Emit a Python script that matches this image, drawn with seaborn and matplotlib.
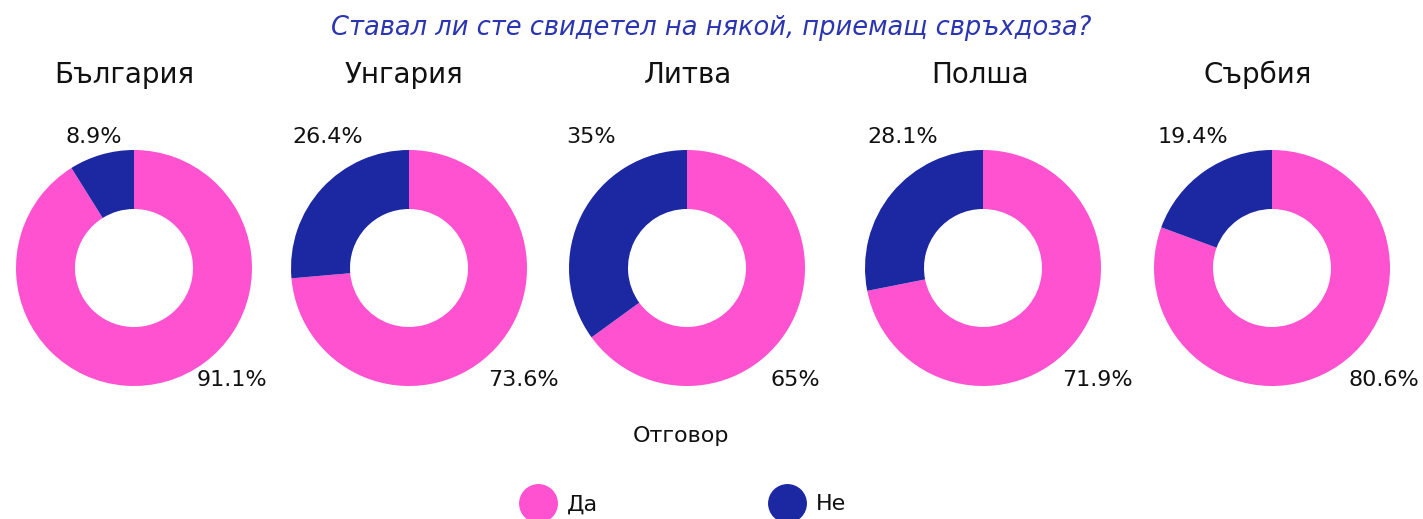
import matplotlib
matplotlib.use("Agg")
import matplotlib.pyplot as plt
from matplotlib.lines import Line2D
import seaborn as sns

# data
COUNTRIES = ["България", "Унгария", "Литва", "Полша", "Сърбия"]
YES = [91.1, 73.6, 65, 71.9, 80.6]
NO = [8.9, 26.4, 35, 28.1, 19.4]
ANSWERS = ["Да", "Не"]

TITLE = "Ставал ли сте свидетел на някой, приемащ свръхдоза?"
LEGEND_TITLE = "Отговор"

# layout (pixels of a 1423x519 canvas)
W, H = 1423, 519
CENTERS_X = [134, 409, 687, 983, 1272]
TITLES_X = [124, 404, 688, 980, 1258]
CENTER_Y = 268
RADIUS = 118
SMALL_LABEL_X = [-0.34, -0.69, -0.81, -0.68, -0.67]
BIG_LABEL_X = [0.83, 0.97, 0.92, 0.97, 0.95]

sns.set_theme(style="white")
plt.rcParams['font.family'] = ['DejaVu Sans']
colors = ["#FF52D0", "#1C28A2"]


def fmt(v):
    return f"{v:g}%"


fig = plt.figure(figsize=(W / 100, H / 100), dpi=100)

fig.text(0.5, 1 - 28 / H, TITLE, ha='center', va='center',
         fontsize=18.5, style='italic', color="#2B35B0")

for i, country in enumerate(COUNTRIES):
    cx = CENTERS_X[i]
    ax = fig.add_axes([(cx - RADIUS) / W, (H - CENTER_Y - RADIUS) / H,
                       2 * RADIUS / W, 2 * RADIUS / H])
    ax.pie([YES[i], NO[i]], colors=colors, startangle=90, counterclock=False,
           radius=1, wedgeprops=dict(width=0.5, linewidth=0))
    ax.set_xlim(-1, 1)
    ax.set_ylim(-1, 1)
    ax.set_aspect('equal')
    ax.axis('off')
    ax.text(SMALL_LABEL_X[i], 1.11, fmt(NO[i]), ha='center', va='center',
            fontsize=16, color='#111111', clip_on=False)
    ax.text(BIG_LABEL_X[i], -0.95, fmt(YES[i]), ha='center', va='center',
            fontsize=16, color='#111111', clip_on=False)
    fig.text(TITLES_X[i] / W, 1 - 75 / H, country, ha='center', va='center',
             fontsize=20, color='#111111')

handles = [Line2D([], [], linestyle='none', marker='o', markersize=27,
                  markerfacecolor=c, markeredgecolor=c) for c in colors]
leg = fig.legend(handles, ANSWERS, title=LEGEND_TITLE, loc='upper center',
                 bbox_to_anchor=(681 / W, 1 - 417 / H), ncol=2, frameon=False,
                 fontsize=16, title_fontsize=16, columnspacing=7.5,
                 handletextpad=0.3, borderaxespad=0, labelcolor='#111111')
leg.get_title().set_color('#111111')
leg._legend_box.sep = 35

fig.savefig("out.png", dpi=100)
plt.close(fig)
